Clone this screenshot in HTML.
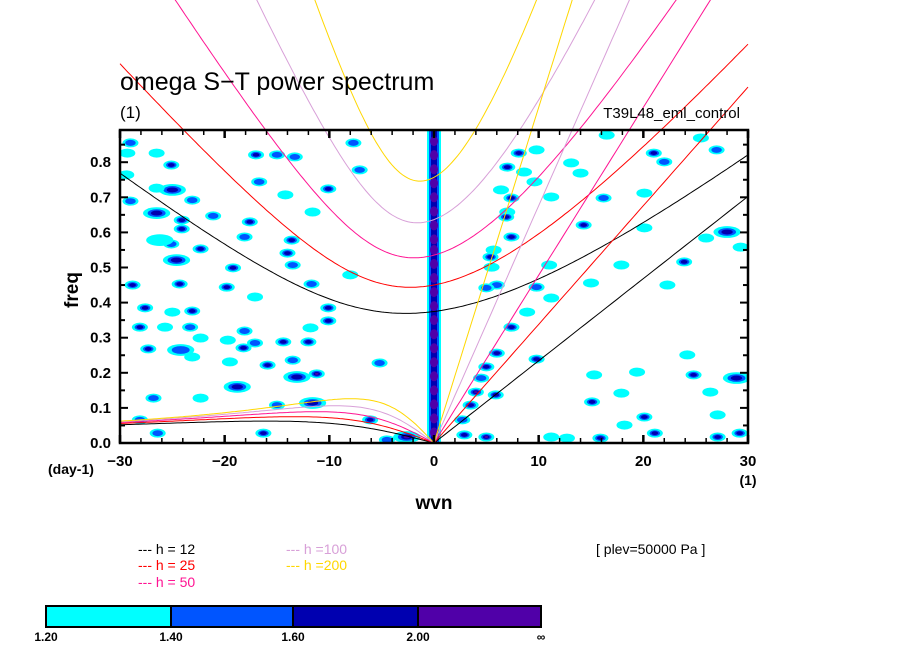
<!DOCTYPE html>
<html><head><meta charset="utf-8"><style>
html,body{margin:0;padding:0;background:#fff;}
svg{display:block;font-family:"Liberation Sans",sans-serif;}
</style></head><body>
<svg id="chart" width="904" height="654" viewBox="0 0 904 654">
<g id="blobs"></g>
<g id="column"></g>
<g id="curves"></g>
<g id="axes"></g>
<text x="120" y="90" font-size="25">omega S−T power spectrum</text>
<text x="120" y="118" font-size="17">(1)</text>
<text x="740" y="118" font-size="15" text-anchor="end">T39L48_eml_control</text>
<text x="0" y="0" font-size="19" font-weight="bold" transform="translate(78,290) rotate(-90)" text-anchor="middle">freq</text>
<text x="48" y="474" font-size="14" font-weight="bold">(day-1)</text>
<text x="748" y="485" font-size="14" font-weight="bold" text-anchor="middle">(1)</text>
<text x="434" y="509" font-size="19" font-weight="bold" text-anchor="middle">wvn</text>
<g font-size="14">
<g><text x="138" y="554" fill="#000">--- h = 12</text></g>
<g><text x="138" y="570" fill="#ff0000">--- h = 25</text></g>
<g><text x="138" y="587" fill="#ff1493">--- h = 50</text></g>
<g><text x="286" y="554" fill="#d8a0d8">--- h =100</text></g>
<g><text x="286" y="570" fill="#ffd700">--- h =200</text></g>
</g>
<text x="596" y="554" font-size="14">[ plev=50000 Pa ]</text>
<g id="cbar"></g>
</svg>
<script>
// ---- data ----
const blobK=[-29.0,-29.3,-26.5,-25.1,-17.0,-15.0,-13.3,-7.7,-7.1,-16.7,-10.1,-25.0,-26.5,-14.2,-23.1,-29.4,-29.0,-26.5,-24.1,-21.1,-24.1,-17.6,-11.6,-13.6,-25.1,-26.2,-18.1,-14.0,-22.3,-24.6,-19.2,-13.5,-28.8,-24.3,-19.8,-11.7,-8.0,
-27.6,-23.1,-25.0,-17.1,-10.1,-28.1,-25.7,-23.3,-18.1,-10.1,-11.8,-22.3,-19.7,-27.3,-24.2,-18.2,-17.1,-14.4,-12.0,-23.1,-19.5,-15.9,-13.5,-11.2,-13.1,-5.2,-18.8,-26.8,-22.3,-11.6,-15.0,-6.1,-28.1,-16.3,-2.6,-4.5,-26.4,
8.1,9.8,7.0,8.6,6.4,7.4,9.6,11.2,14.0,13.1,16.5,21.0,22.0,27.0,25.5,20.1,16.2,7.0,6.9,7.4,5.7,5.4,5.5,14.3,20.1,28.0,29.3,23.9,26.0,17.9,6.0,9.8,15.0,22.3,11.0,
5.0,11.2,8.9,7.4,6.0,9.8,5.0,4.5,4.0,5.9,3.5,2.7,2.9,5.0,15.1,17.9,19.4,15.3,24.8,26.4,28.9,18.2,20.1,21.1,27.1,27.1,29.2,15.9,12.7,11.2,24.2];
const blobF=[0.855,0.826,0.826,0.792,0.821,0.821,0.815,0.855,0.778,0.744,0.724,0.721,0.726,0.707,0.692,0.764,0.689,0.655,0.635,0.647,0.610,0.630,0.658,0.578,0.567,0.578,0.587,0.541,0.553,0.521,0.499,0.507,0.450,0.453,0.444,0.453,0.479,
0.385,0.376,0.373,0.416,0.385,0.330,0.330,0.330,0.319,0.348,0.328,0.299,0.293,0.268,0.265,0.271,0.285,0.288,0.288,0.245,0.231,0.222,0.236,0.197,0.188,0.228,0.160,0.128,0.128,0.114,0.108,0.066,0.066,0.028,0.017,0.009,0.028,
0.826,0.835,0.786,0.772,0.721,0.698,0.744,0.701,0.769,0.798,0.877,0.826,0.801,0.835,0.869,0.712,0.698,0.658,0.644,0.587,0.550,0.530,0.501,0.621,0.613,0.601,0.558,0.516,0.584,0.507,0.450,0.444,0.456,0.450,0.507,
0.442,0.413,0.373,0.330,0.256,0.239,0.217,0.185,0.145,0.137,0.108,0.066,0.023,0.017,0.117,0.142,0.202,0.194,0.194,0.145,0.185,0.051,0.074,0.028,0.080,0.017,0.028,0.014,0.014,0.017,0.251];
const blobLevel=[2,1,1,3,3,2,2,2,2,2,3,3,1,1,2,1,2,3,3,2,3,3,1,3,2,1,2,3,3,3,3,2,3,3,3,2,1,
3,3,1,1,3,3,1,2,2,3,1,1,1,3,2,3,2,3,3,1,1,3,2,4,3,2,3,2,1,3,2,3,2,3,4,2,2,
3,1,3,1,1,3,1,1,1,1,1,3,2,2,1,1,2,1,3,3,1,3,1,3,1,3,1,3,1,1,2,2,1,1,1,
2,1,1,3,3,3,3,2,4,3,3,2,3,4,3,1,1,1,3,1,3,1,3,3,1,3,3,3,1,1,1];
const wideIdx=[11,17,25,29,51,61,63,66,71,99,129,145];
const columnBeads=[0.86,0.82,0.78,0.74,0.70,0.66,0.62,0.58,0.55,0.51,0.47,0.43,0.39,0.35,0.31,0.27,0.23,0.19,0.15,0.11,0.07,0.03];
const depths=[12,25,50,100,200];
const depthColors=['#000000','#ff0000','#ff1493','#d8a0d8','#ffd700'];
const xTickLabels=[-30,-20,-10,0,10,20,30];
const yTickLabels=[0.0,0.1,0.2,0.3,0.4,0.5,0.6,0.7,0.8];
const cbarLabels=['1.20','1.40','1.60','2.00','∞'];
const cbarColors=['#00ffff','#0055ff','#0000b0','#5000a8'];

// ---- axes functions ----
const X0=120,X1=748,Y0=443,Ytop=130;
const kMin=-30,kMax=30,fPer=351;
const sx=k=>X0+(k-kMin)/(kMax-kMin)*(X1-X0);
const sy=f=>Y0-f*fPer;
const NS='http://www.w3.org/2000/svg';
function mk(tag,attrs,parent){const e=document.createElementNS(NS,tag);for(const a in attrs)e.setAttribute(a,attrs[a]);parent.appendChild(e);return e;}

const defs=mk('defs',{},document.getElementById('chart'));
const cp=mk('clipPath',{id:'plotclip'},defs);
mk('rect',{x:X0,y:Ytop,width:X1-X0,height:Y0-Ytop},cp);

// blobs
const gB=document.getElementById('blobs');
gB.setAttribute('clip-path','url(#plotclip)');
const levelCols=['#00ffff','#0055ff','#0000b0','#5000a8'];
for(let i=0;i<blobK.length;i++){
  const w=wideIdx.includes(i)?1.7:1;
  const g=mk('g',{},gB);
  
  
  const cx=sx(blobK[i]),cy=sy(blobF[i]);
  for(let l=0;l<blobLevel[i];l++){
    const s=[1,0.66,0.42,0.22][l];
    mk('ellipse',{cx:cx,cy:cy,rx:8*w*s,ry:4.5*Math.sqrt(w)*s,fill:levelCols[l]},g);
  }
}
// zero column
const gC=document.getElementById('column');
const cx0=sx(0);
mk('rect',{x:cx0-7,y:Ytop,width:14,height:Y0-Ytop,fill:'#00ffff'},gC);
mk('rect',{x:cx0-5,y:Ytop,width:10,height:Y0-Ytop,fill:'#0055ff'},gC);
mk('rect',{x:cx0-3,y:Ytop,width:6,height:Y0-Ytop,fill:'#0000b0'},gC);
columnBeads.forEach(f=>{
  const b=mk('ellipse',{cx:cx0,cy:sy(f),rx:4,ry:5,fill:'#5000a8'},gC);
  
  
});

// dispersion curves
const g=9.81,beta=2.28e-11,Re=6.371e6,toCpd=86400/(2*Math.PI);
const gD=document.getElementById('curves');
function pathFrom(pts){return pts.map((p,i)=>(i?'L':'M')+p[0].toFixed(1)+' '+p[1].toFixed(1)).join(' ');}
depths.forEach((h,di)=>{
  const c=Math.sqrt(g*h),col=depthColors[di];
  const ig=[];
  for(let s=kMin;s<=kMax+1e-9;s+=0.25){
    const k=s/Re;
    let w=1.5*Math.sqrt(c*c*k*k+3*beta*c)+1e-6;
    for(let it=0;it<60;it++){
      const F=w*w*w-(c*c*k*k+3*beta*c)*w-beta*c*c*k;
      const dF=3*w*w-(c*c*k*k+3*beta*c);
      w-=F/dF;
    }
    ig.push([sx(s),sy(w*toCpd)]);
  }
  const p1=mk('path',{d:pathFrom(ig),fill:'none',stroke:col,'stroke-width':1},gD);
  
  
  const kv=[];
  for(let s=0;s<=kMax;s+=0.5){kv.push([sx(s),sy(c*(s/Re)*toCpd)]);}
  const p2=mk('path',{d:pathFrom(kv),fill:'none',stroke:col,'stroke-width':1},gD);
  
  
  const ro=[];
  for(let s=kMin;s<=0;s+=0.25){const k=s/Re;ro.push([sx(s),sy(-beta*k/(k*k+3*beta/c)*toCpd)]);}
  const p3=mk('path',{d:pathFrom(ro),fill:'none',stroke:col,'stroke-width':1},gD);
  
  
});

// axes
const gA=document.getElementById('axes');
const fr=mk('rect',{x:X0,y:Ytop,width:X1-X0,height:Y0-Ytop,fill:'none',stroke:'#000','stroke-width':2.5},gA);


for(let s=kMin;s<=kMax;s+=2){
  const L=(s%10===0)?8:5;
  mk('line',{x1:sx(s),x2:sx(s),y1:Y0,y2:Y0-L,stroke:'#000','stroke-width':s%10===0?2.5:1.5},gA);
  mk('line',{x1:sx(s),x2:sx(s),y1:Ytop,y2:Ytop+L,stroke:'#000','stroke-width':s%10===0?2.5:1.5},gA);
}
for(let f=0;f<=0.88;f+=0.05){
  const major=Math.abs(f*10-Math.round(f*10))<1e-6;const L=major?8:5;
  mk('line',{x1:X0,x2:X0+L,y1:sy(f),y2:sy(f),stroke:'#000','stroke-width':2},gA);
  mk('line',{x1:X1,x2:X1-L,y1:sy(f),y2:sy(f),stroke:'#000','stroke-width':2},gA);
}
xTickLabels.forEach(v=>{
  const t=mk('text',{x:sx(v),y:466,'font-size':15,'font-weight':'bold','text-anchor':'middle'},gA);
  t.textContent=v<0?'−'+Math.abs(v):String(v);
  
  
});
yTickLabels.forEach(v=>{
  const t=mk('text',{x:111,y:sy(v)+5,'font-size':15,'font-weight':'bold','text-anchor':'end'},gA);
  t.textContent=v.toFixed(1);
  
  
});

// colorbar
const gK=document.getElementById('cbar');
const cbX=[46,171,293,418,541];
cbarColors.forEach((c,i)=>{
  const r=mk('rect',{x:cbX[i],y:606,width:cbX[i+1]-cbX[i],height:21,fill:c,stroke:'#000','stroke-width':2},gK);
  
  
});
cbarLabels.forEach((l,i)=>{
  const t=mk('text',{x:cbX[i],y:641,'font-size':12,'font-weight':'bold','text-anchor':'middle'},gK);
  t.textContent=l;
  
  
});
</script>
</body></html>
